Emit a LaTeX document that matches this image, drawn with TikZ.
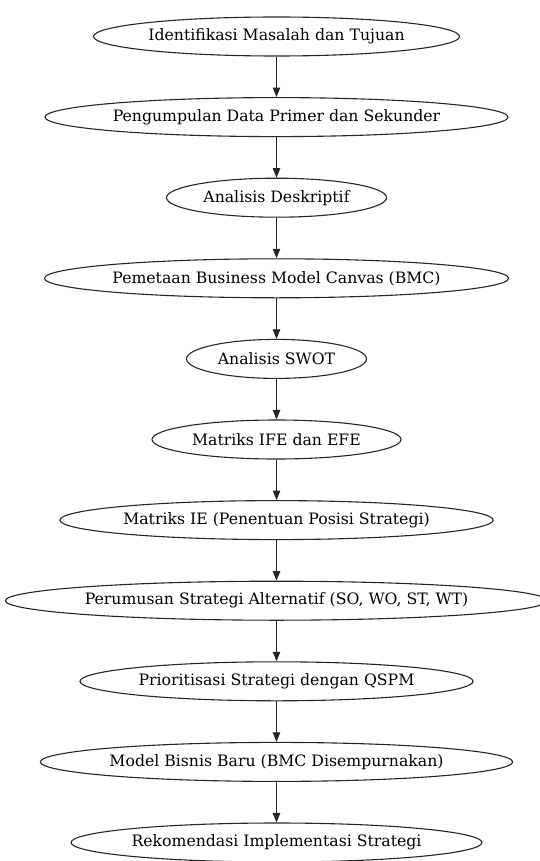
\documentclass[tikz,border=0pt]{standalone}
\usepackage{fontspec}
\setmainfont{DejaVu Serif}
\usetikzlibrary{shapes.geometric,arrows.meta}
\begin{document}
\begin{tikzpicture}[x=1pt,y=-1pt,
  stage/.style={ellipse,draw=black!85,line width=1.1pt,inner sep=0pt,
    minimum height=39pt,font=\fontsize{15.7}{18}\selectfont},
  flow/.style={draw=black!85,line width=1pt,-{Triangle[length=9.5pt,width=7.5pt]}}]
\useasboundingbox (0,0) rectangle (539,861);
\node[stage,minimum width=366pt] (n1) at (276.5,36.5) {Identifikasi Masalah dan Tujuan};
\node[stage,minimum width=460pt] (n2) at (276.5,117.1) {Pengumpulan Data Primer dan Sekunder};
\node[stage,minimum width=220pt] (n3) at (276.5,197.7) {Analisis Deskriptif};
\node[stage,minimum width=460pt] (n4) at (276.5,278.3) {Pemetaan Business Model Canvas (BMC)};
\node[stage,minimum width=180pt] (n5) at (276.5,358.9) {Analisis SWOT};
\node[stage,minimum width=249pt] (n6) at (276.5,439.5) {Matriks IFE dan EFE};
\node[stage,minimum width=432pt] (n7) at (276.5,520.1) {Matriks IE (Penentuan Posisi Strategi)};
\node[stage,minimum width=536pt] (n8) at (276.5,600.7) {Perumusan Strategi Alternatif (SO, WO, ST, WT)};
\node[stage,minimum width=393pt] (n9) at (276.5,681.3) {Prioritisasi Strategi dengan QSPM};
\node[stage,minimum width=468pt] (n10) at (276.5,761.9) {Model Bisnis Baru (BMC Disempurnakan)};
\node[stage,minimum width=411pt] (n11) at (276.5,842.5) {Rekomendasi Implementasi Strategi};
\foreach \a/\b in {n1/n2,n2/n3,n3/n4,n4/n5,n5/n6,n6/n7,n7/n8,n8/n9,n9/n10,n10/n11}
  \draw[flow] (\a.south) -- (\b.north);
\end{tikzpicture}
\end{document}
